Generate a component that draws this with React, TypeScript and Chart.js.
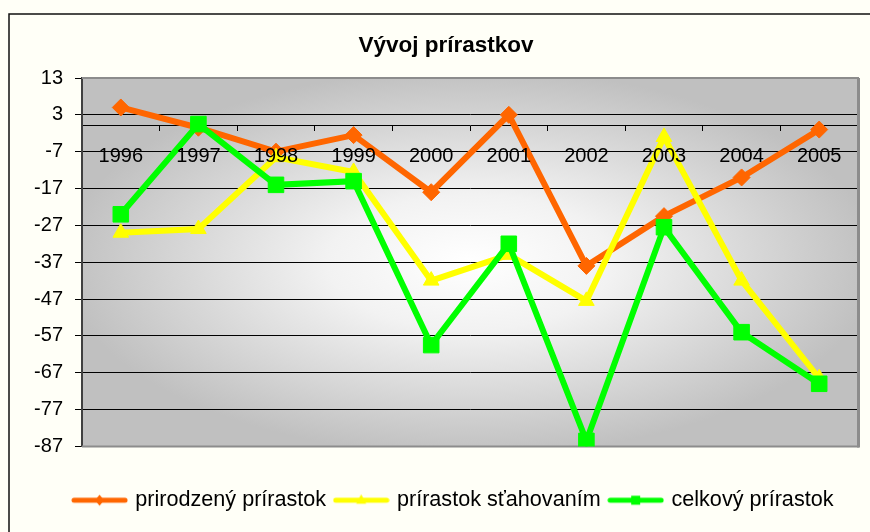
import React, { useEffect, useRef } from 'react';
import { Chart, registerables } from 'chart.js';

Chart.register(...registerables);

const years = ['1996', '1997', '1998', '1999', '2000', '2001', '2002', '2003', '2004', '2005'];
const naturalIncrease = [5, -0.5, -7, -2.5, -18, 3, -38, -24.5, -14, -1];
const migrationIncrease = [-29, -28, -8.5, -12.5, -42, -35, -47.5, -3, -42, -68.5];
const totalIncrease = [-24, 0.5, -16, -15, -59.5, -32, -85.5, -27.5, -56, -70];
const seriesLabels = ['prirodzený prírastok', 'prírastok sťahovaním', 'celkový prírastok'];
const chartTitle = 'Vývoj prírastkov';
const yMin = -87;
const yMax = 13;
const yStep = 10;

const ORANGE = '#FF6600';
const YELLOW = '#FFFF00';
const GREEN = '#00FF00';
const FONT = '"Liberation Sans", Arial, sans-serif';

function legendImage(color: string, marker: string): HTMLCanvasElement {
  const c = document.createElement('canvas');
  c.width = 57;
  c.height = 14;
  const ctx = c.getContext('2d')!;
  ctx.strokeStyle = color;
  ctx.fillStyle = color;
  ctx.lineWidth = 5;
  ctx.lineCap = 'round';
  ctx.beginPath();
  ctx.moveTo(3, 7);
  ctx.lineTo(54, 7);
  ctx.stroke();
  const cx = 28.5;
  const cy = 7;
  ctx.beginPath();
  if (marker === 'diamond') {
    ctx.moveTo(cx, cy - 5.5);
    ctx.lineTo(cx + 4.5, cy);
    ctx.lineTo(cx, cy + 5.5);
    ctx.lineTo(cx - 4.5, cy);
  } else if (marker === 'triangle') {
    ctx.moveTo(cx, cy - 6);
    ctx.lineTo(cx + 5, cy + 3.5);
    ctx.lineTo(cx - 5, cy + 3.5);
  } else {
    ctx.rect(cx - 4.5, cy - 4.5, 9, 9);
  }
  ctx.closePath();
  ctx.fill();
  return c;
}

const backgroundPlugin = {
  id: 'excelBackground',
  afterLayout(chart: any) {
    if (chart.legend) {
      chart.legend.left += 17;
      chart.legend.right += 17;
    }
  },
  beforeDraw(chart: any) {
    const { ctx, chartArea, width, height } = chart;
    ctx.save();
    ctx.fillStyle = '#FFFFF7';
    ctx.fillRect(0, 0, width, height);
    // outer frame
    ctx.strokeStyle = '#111111';
    ctx.lineWidth = 1.5;
    ctx.beginPath();
    ctx.moveTo(9, height);
    ctx.lineTo(9, 14);
    ctx.lineTo(width, 14);
    ctx.stroke();
    // plot area gradient
    const { left, top, right, bottom } = chartArea;
    const cx = (left + right) / 2;
    const cy = (top + bottom) / 2;
    const rx = (right - left) / 2;
    const ry = (bottom - top) / 2;
    ctx.save();
    ctx.beginPath();
    ctx.rect(left, top, right - left, bottom - top);
    ctx.clip();
    ctx.translate(cx, cy);
    ctx.scale(rx / ry, 1);
    const g = ctx.createRadialGradient(0, 0, 0, 0, 0, ry * 1.05);
    g.addColorStop(0, '#FFFFFF');
    g.addColorStop(0.35, '#F2F2F2');
    g.addColorStop(1, '#C0C0C0');
    ctx.fillStyle = g;
    ctx.fillRect(-ry * 1.2, -ry * 1.2, ry * 2.4, ry * 2.4);
    ctx.restore();
    // title
    ctx.fillStyle = '#000000';
    ctx.font = 'bold 22.5px ' + FONT;
    ctx.textAlign = 'center';
    ctx.textBaseline = 'alphabetic';
    ctx.fillText(chartTitle, 446, 52);
    ctx.restore();
  },
  beforeDatasetsDraw(chart: any) {
    const { ctx, chartArea } = chart;
    const { left, top, right, bottom } = chartArea;
    ctx.save();
    ctx.strokeStyle = '#8C8C8C';
    ctx.lineWidth = 2;
    ctx.beginPath();
    ctx.moveTo(left, top);
    ctx.lineTo(right, top);
    ctx.lineTo(right, bottom);
    ctx.lineTo(left, bottom);
    ctx.stroke();
    ctx.lineWidth = 3;
    ctx.beginPath();
    ctx.moveTo(right + 0.5, top);
    ctx.lineTo(right + 0.5, bottom + 1);
    ctx.stroke();
    ctx.restore();
  },
};

export default function App() {
  const ref = useRef<HTMLCanvasElement | null>(null);

  useEffect(() => {
    if (!ref.current) return;
    const images = [
      legendImage(ORANGE, 'diamond'),
      legendImage(YELLOW, 'triangle'),
      legendImage(GREEN, 'square'),
    ];
    const chart = new Chart(ref.current, {
      type: 'line',
      data: {
        labels: years,
        datasets: [
          {
            label: seriesLabels[0],
            data: naturalIncrease,
            borderColor: ORANGE,
            backgroundColor: ORANGE,
            pointBackgroundColor: ORANGE,
            pointBorderColor: ORANGE,
            borderWidth: 6,
            pointStyle: 'rectRot',
            pointRadius: 8.5,
            pointBorderWidth: 1,
            tension: 0,
            order: 3,
          },
          {
            label: seriesLabels[1],
            data: migrationIncrease,
            borderColor: YELLOW,
            backgroundColor: YELLOW,
            pointBackgroundColor: YELLOW,
            pointBorderColor: YELLOW,
            borderWidth: 6,
            pointStyle: 'triangle',
            pointRadius: 9,
            pointBorderWidth: 1,
            tension: 0,
            order: 2,
          },
          {
            label: seriesLabels[2],
            data: totalIncrease,
            borderColor: GREEN,
            backgroundColor: GREEN,
            pointBackgroundColor: GREEN,
            pointBorderColor: GREEN,
            borderWidth: 6,
            pointStyle: 'rect',
            pointRadius: 11,
            pointBorderWidth: 1,
            tension: 0,
            order: 1,
          },
        ],
      },
      options: {
        responsive: false,
        animation: false,
        events: [],
        layout: { padding: { top: 78, left: 10, right: 6, bottom: 11 } },
        scales: {
          x: {
            type: 'category',
            position: { y: 0 } as any,
            offset: true,
            grid: {
              display: true,
              drawOnChartArea: false,
              drawTicks: true,
              tickLength: 5,
              color: '#000000',
              offset: true,
            },
            border: { display: true, color: '#000000', width: 1 },
            ticks: {
              z: 1,
              color: '#000000',
              font: { family: FONT, size: 20 },
              padding: 14,
              maxRotation: 0,
              minRotation: 0,
              autoSkip: false,
            },
          },
          y: {
            type: 'linear',
            min: yMin,
            max: yMax,
            ticks: {
              stepSize: yStep,
              color: '#000000',
              font: { family: FONT, size: 20 },
              padding: 12,
            },
            grid: {
              color: (c: any) =>
                c.index === 0 || c.index === 10 ? 'rgba(0,0,0,0)' : '#000000',
              tickColor: '#000000',
              tickLength: 7,
              lineWidth: 1,
            },
            border: { color: '#404040', width: 2 },
            afterFit: (s: any) => {
              s.width = 72;
            },
          },
        },
        plugins: {
          tooltip: { enabled: false },
          title: { display: false },
          legend: {
            position: 'bottom',
            title: { display: true, text: '', font: { size: 1 }, padding: { top: 31.8, bottom: 0 } },
            labels: {
              usePointStyle: true,
              pointStyleWidth: 50,
              boxHeight: 14,
              padding: 10,
              color: '#000000',
              font: { family: FONT, size: 21.6 },
              generateLabels: (ch: any) =>
                ch.data.datasets.map((ds: any, i: number) => ({
                  text: ds.label,
                  pointStyle: images[i],
                  fillStyle: ds.borderColor,
                  strokeStyle: ds.borderColor,
                  lineWidth: 0,
                  hidden: false,
                  datasetIndex: i,
                  fontColor: '#000000',
                })),
            },
          },
        },
      },
      plugins: [backgroundPlugin],
    });
    return () => chart.destroy();
  }, []);

  return (
    <div style={{ position: 'absolute', left: 0, top: 0, width: 870, height: 532 }}>
      <canvas ref={ref} width={870} height={532} style={{ display: 'block' }} />
    </div>
  );
}
